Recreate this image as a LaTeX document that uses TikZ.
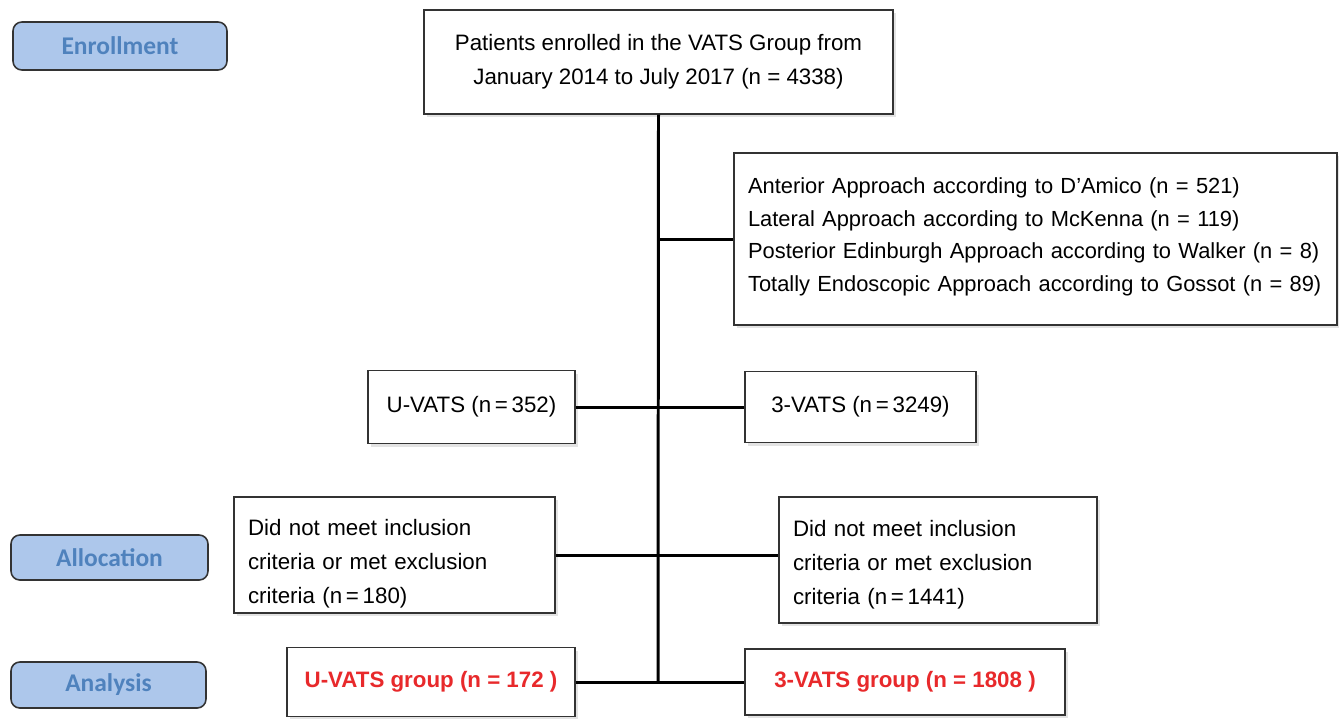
\documentclass[tikz,border=0pt]{standalone}
\usepackage{fontspec}
\setmainfont{Liberation Sans}
\newfontfamily\stagefont{Carlito}
\usetikzlibrary{positioning}
\usetikzlibrary{shadows}
\usepackage{color}
\definecolor{stagefill}{rgb}{0.68,0.78,0.92}
\definecolor{stagetext}{rgb}{0.31,0.51,0.74}
\definecolor{groupred}{rgb}{0.91,0.16,0.17}
\definecolor{boxline}{rgb}{0.2,0.2,0.2}

\begin{document}
\begin{tikzpicture}
[x=0.02cm, y=-0.02cm, line width=1.7pt,
 box/.style={draw=boxline, line width=0.8pt, fill=white,
   drop shadow={shadow xshift=0.06cm, shadow yshift=-0.06cm, fill=black!22},
   font=\fontsize{12.7}{19.3}\selectfont, inner sep=0pt},
 stage/.style={draw=boxline, line width=0.9pt, fill=stagefill, rounded corners=5pt,
   text=stagetext, font=\stagefont\bfseries\fontsize{14.5}{17}\selectfont, inner sep=0pt},
 group/.style={box, text=groupred, font=\fontsize{12.7}{15}\selectfont\bfseries}]

\useasboundingbox (0,0) rectangle (1339,718);

% Stage labels on the left:
\node[stage, minimum width=4.28cm, minimum height=0.96cm] (enroll) at (120,46) {Enrollment};
\node[stage, minimum width=3.94cm, minimum height=0.90cm] (alloc) at (109.5,557.5) {Allocation};
\node[stage, minimum width=3.90cm, minimum height=0.92cm] (analys) at (108.5,685) {Analysis};

% Boxes of the flow:
\node[box, minimum width=9.38cm, minimum height=2.08cm, align=center] (enrolled) at (658.5,62)
  {Patients enrolled in the VATS Group from\\January 2014 to July 2017 (n = 4338)};
\node[box, minimum width=12.06cm, minimum height=3.44cm, text width=11.5cm, align=left,
  font=\fontsize{12.45}{18.5}\selectfont] (approach) at (1035.5,239)
  {Anterior Approach according to D'Amico (n = 521)\\
   Lateral Approach according to McKenna (n = 119)\\
   Posterior Edinburgh Approach according to Walker (n = 8)\\
   Totally Endoscopic Approach according to Gossot (n = 89)\rule[-0.18cm]{0pt}{0.1cm}};
\node[box, minimum width=4.14cm, minimum height=1.46cm] (uvats) at (471.5,407) {U-VATS (n\,=\,352)};
\node[box, minimum width=4.62cm, minimum height=1.42cm] (tvats) at (860.5,407) {3-VATS (n\,=\,3249)};
\node[box, minimum width=6.42cm, minimum height=2.32cm, text width=5.86cm, align=left] (exclleft) at (394.5,555)
  {\rule{0pt}{0.68cm}Did not meet inclusion\\criteria or met exclusion\\criteria (n\,=\,180)};
\node[box, minimum width=6.36cm, minimum height=2.52cm, text width=5.8cm, align=left] (exclright) at (938,560)
  {\rule{0pt}{0.52cm}Did not meet inclusion\\criteria or met exclusion\\criteria (n\,=\,1441)};
\node[group, minimum width=5.76cm, minimum height=1.38cm] (ugroup) at (431,682) {U-VATS group (n = 172 )};
\node[group, minimum width=6.40cm, minimum height=1.32cm] (tgroup) at (905,682) {3-VATS group (n = 1808 )};

% Connectors:
\coordinate (foot) at (658,682);
\draw (enrolled.south) -- (foot);
\draw (approach.west -| enrolled.south) -- (approach.west);
\draw (uvats.east) -- (tvats.west);
\draw (exclleft.east) -- (exclleft.east -| exclright.west);
\draw (ugroup.east) -- (tgroup.west);

\end{tikzpicture}
\end{document}
